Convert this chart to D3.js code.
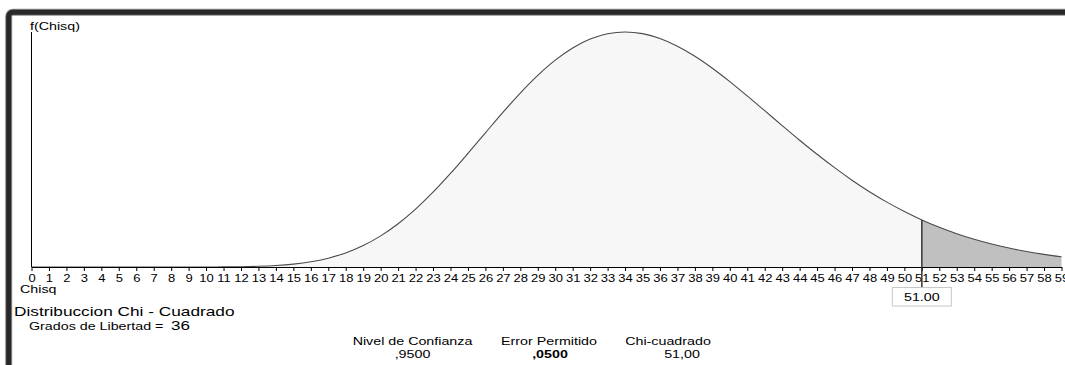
<!DOCTYPE html>
<html>
<head>
<meta charset="utf-8">
<script src="https://cdn.jsdelivr.net/npm/d3@7"></script>
<style>
  body { margin: 0; background: #fff; }
  svg { display: block; font-family: "Liberation Sans", Arial, sans-serif; }
</style>
</head>
<body>
<svg id="draw" width="1065" height="365"></svg>
<script>
// values (chi-square, 36 degrees of freedom)
var chisq = d3.range(0, 60);
var density = [0, 0, 0, 0, 0, 0, 0, 0, 0, 0.000002, 0.000007, 0.000022, 0.000059, 0.000139,
  0.000298, 0.000584, 0.00106, 0.00181, 0.00289, 0.0044, 0.00638, 0.00887, 0.01187, 0.01532,
  0.01916, 0.02327, 0.02749, 0.03168, 0.03565, 0.03926, 0.04238, 0.04489, 0.04671, 0.0478,
  0.04815, 0.04781, 0.04682, 0.04524, 0.04318, 0.04073, 0.03799, 0.03505, 0.03203, 0.02898,
  0.02598, 0.02309, 0.02035, 0.01779, 0.01543, 0.01329, 0.01137, 0.00965, 0.00814, 0.00683,
  0.00569, 0.00471, 0.00388, 0.00318, 0.00259, 0.0021];
var critical = 51;
var gradosLibertad = 36;
var statLabels = ["Nivel de Confianza", "Error Permitido", "Chi-cuadrado"];
var statValues = [",9500", ",0500", "51,00"];

var data = chisq.map(function(x, i) { return {x: x, y: density[i]}; });

var svg = d3.select("#draw");
var sx = 1.36; // the picture is stretched sideways, text too

// window frame
svg.append("rect")
  .attr("x", 8.7).attr("y", 12.3)
  .attr("width", 1200).attr("height", 500)
  .attr("rx", 4)
  .attr("fill", "none")
  .attr("stroke", "#8a8a8a")
  .attr("stroke-width", 7);
svg.append("rect")
  .attr("x", 8.7).attr("y", 12.3)
  .attr("width", 1200).attr("height", 500)
  .attr("rx", 4)
  .attr("fill", "none")
  .attr("stroke", "#282828")
  .attr("stroke-width", 5);

var xScale = d3.scaleLinear().domain([0, 59]).range([31.5, 1061.5]);
var yScale = d3.scaleLinear().domain([0, d3.max(density)]).range([267, 32]);

var area = d3.area()
  .x(function(d) { return xScale(d.x); })
  .y0(yScale(0))
  .y1(function(d) { return yScale(d.y); })
  .curve(d3.curveMonotoneX);

var line = d3.line()
  .x(function(d) { return xScale(d.x); })
  .y(function(d) { return yScale(d.y); })
  .curve(d3.curveMonotoneX);

var body = data.filter(function(d) { return d.x <= critical; });
var tail = data.filter(function(d) { return d.x >= critical; });

svg.append("path").datum(body)
  .attr("d", area)
  .attr("fill", "#f7f7f7");

svg.append("path").datum(tail)
  .attr("d", area)
  .attr("fill", "#c0c0c0");

svg.append("path").datum(data)
  .attr("d", line)
  .attr("fill", "none")
  .attr("stroke", "#4a4a4a")
  .attr("stroke-width", 1.1);

// x axis
var xAxis = svg.append("g")
  .attr("transform", "translate(0," + yScale(0) + ")")
  .call(d3.axisBottom(xScale)
    .tickValues(chisq)
    .tickSize(4)
    .tickSizeOuter(0)
    .tickPadding(3.5)
    .tickFormat(d3.format("d")));
xAxis.select(".domain").attr("stroke", "#000");
xAxis.selectAll(".tick line").attr("stroke", "#000");
xAxis.selectAll(".tick text")
  .attr("fill", "#000")
  .attr("font-family", "Liberation Sans, Arial, sans-serif")
  .attr("font-size", 10.4)
  .attr("transform", "scale(1.25,1)");

// y axis
svg.append("line")
  .attr("x1", xScale(0)).attr("x2", xScale(0))
  .attr("y1", yScale(0)).attr("y2", yScale(d3.max(density)))
  .attr("stroke", "#000");

// critical value marker
svg.append("line")
  .attr("x1", xScale(critical)).attr("x2", xScale(critical))
  .attr("y1", yScale(density[critical])).attr("y2", 287)
  .attr("stroke", "#333")
  .attr("stroke-width", 1.5);

svg.append("rect")
  .attr("x", xScale(critical) - 29.5).attr("y", 287.5)
  .attr("width", 59).attr("height", 18.5)
  .attr("fill", "#fff")
  .attr("stroke", "#c8c8c8");

function label(x, y, txt, size, anchor, weight) {
  return svg.append("text")
    .attr("transform", "translate(" + x + "," + y + ") scale(" + sx + ",1)")
    .attr("text-anchor", anchor || "start")
    .attr("font-size", size)
    .attr("font-weight", weight || "normal")
    .attr("fill", "#000")
    .text(txt);
}

label(xScale(critical), 301, d3.format(".2f")(critical), 10.5, "middle");
label(30, 29.5, "f(Chisq)", 10.5);
label(20, 293, "Chisq", 10.5);
label(14, 315.5, "Distribuccion Chi - Cuadrado", 12.7);
label(29, 329.5, "Grados de Libertad = ", 10.5);
label(171, 329.5, String(gradosLibertad), 12.5);

var statX = [412.5, 549, 668];
var valX = [412.5, 550, 682];
statLabels.forEach(function(t, i) {
  label(statX[i], 345, t, 10.5, "middle");
  label(valX[i], 358, statValues[i], 10.5, "middle", i === 1 ? "bold" : "normal");
});
</script>
</body>
</html>
